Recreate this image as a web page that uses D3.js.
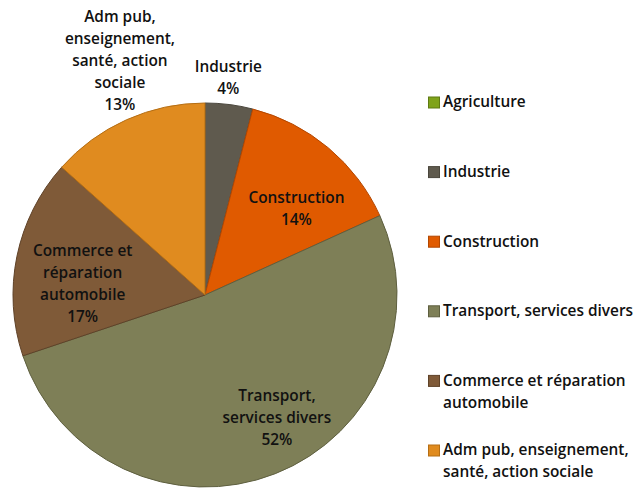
<!DOCTYPE html>
<html><head><meta charset="utf-8">
<script src="https://cdn.jsdelivr.net/npm/d3@7/dist/d3.min.js"></script>
<style>
html,body{margin:0;padding:0;background:#fff;}
svg{display:block;font-family:"Open Sans",Lato,sans-serif;}
</style></head>
<body><svg id="chart" width="635" height="489"></svg>
<script>
// Data
const categories = ["Agriculture","Industrie","Construction","Transport, services divers","Commerce et réparation automobile","Adm pub, enseignement, santé, action sociale"];
const values = [0, 4.0, 14.2, 51.6, 16.7, 13.4];
const colors = ["#7FA31A","#5F5A4E","#E05A00","#7E7F57","#7F5A38","#E08B1F"];
const strokes = ["#5E7A12","#4A463C","#B34700","#5E5F3F","#5F4228","#B56E14"];
// Label text lines (in pie) and legend lines
const pieLabelLines = [
  ["Agriculture"],
  ["Industrie"],
  ["Construction"],
  ["Transport,","services divers"],
  ["Commerce et","réparation","automobile"],
  ["Adm pub,","enseignement,","santé, action","sociale"]
];
const legendLines = [
  ["Agriculture"],
  ["Industrie"],
  ["Construction"],
  ["Transport, services divers"],
  ["Commerce et réparation","automobile"],
  ["Adm pub, enseignement,","santé, action sociale"]
];

// Layout
const cx = 205, cy = 295, R = 192;
const labelRadius = [1.0, 1.135, 0.66, 0.74, 0.64, 1.30];
const labelNudge = [[0,0],[-4,-1],[10,11],[20,-10],[-2,13],[17,-7]];
const lineH = 22;
const fontSize = "15.4px", fontWeight = "600";

const svg = d3.select("#chart");
const data = categories.map((c,i)=>({name:c, value:values[i], i}));
const total = d3.sum(values);
const pie = d3.pie().value(d=>d.value).sort(null);
const arcs = pie(data);
const arc = d3.arc().innerRadius(0).outerRadius(R);

const g = svg.append("g").attr("transform",`translate(${cx},${cy})`);
g.selectAll("path.slice").data(arcs).join("path")
  .attr("class","slice")
  .attr("d",arc)
  .attr("fill",d=>colors[d.data.i])
  .attr("stroke",d=>strokes[d.data.i])
  .attr("stroke-width",1);

// Labels
arcs.forEach(d=>{
  const pct = Math.round(d.data.value/total*100);
  if (pct < 1) return;
  const i = d.data.i;
  const mid = (d.startAngle+d.endAngle)/2;
  const r = R*labelRadius[i];
  const x = Math.sin(mid)*r + labelNudge[i][0];
  const y = -Math.cos(mid)*r + labelNudge[i][1];
  const lines = pieLabelLines[i].concat([pct+"%"]);
  const t = g.append("text")
    .attr("text-anchor","middle")
    .attr("font-size",fontSize).attr("font-weight",fontWeight)
    .attr("fill","#111");
  lines.forEach((ln,k)=>{
    t.append("tspan").attr("x",x)
      .attr("y", y - (lines.length-1)*lineH/2 + k*lineH)
      .attr("dy","0.35em").text(ln);
  });
});

// Legend
const legX = 428, legY0 = 102, legStep = 69.6;
const leg = svg.append("g");
categories.forEach((c,i)=>{
  const y = legY0 + i*legStep;
  leg.append("rect").attr("x",legX+0.5).attr("y",y-5).attr("width",11).attr("height",11)
    .attr("fill",colors[i]).attr("stroke",strokes[i]).attr("stroke-width",1);
  const t = leg.append("text").attr("font-size",fontSize).attr("font-weight",fontWeight).attr("fill","#111");
  legendLines[i].forEach((ln,k)=>{
    t.append("tspan").attr("x",legX+15).attr("y",y+k*lineH).attr("dy","0.35em").text(ln);
  });
});
</script></body></html>
